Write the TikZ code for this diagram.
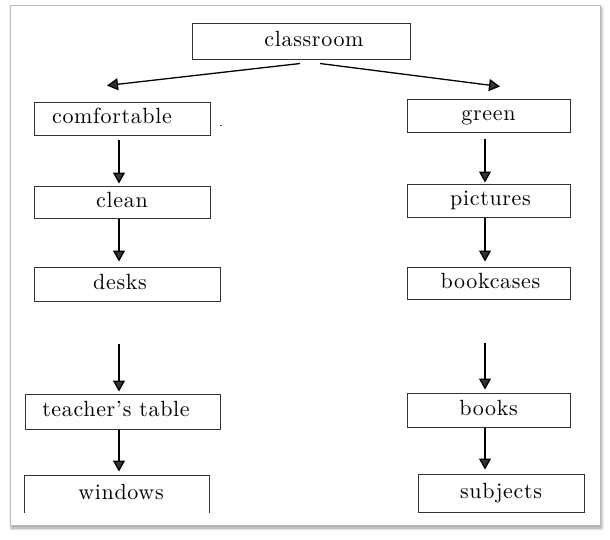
\documentclass[tikz,border=0pt]{standalone}
\usepackage{fontspec}
\newfontfamily\boxfont{lmroman10-regular.otf}[LetterSpace=3]
\usetikzlibrary{arrows.meta,shadows.blur}

\begin{document}
\begin{tikzpicture}
[x=1pt,y=-1pt,%
  darkArrow/.style={-{Triangle[length=11pt,width=12pt]},line width=1.3pt},%
  wordBox/.style={shape=rectangle,draw=black!80,line width=1pt,inner sep=0pt,
    text height=14pt,text depth=4pt,font=\boxfont\fontsize{22}{26}\selectfont},%
  openBox/.style={wordBox,draw=none},%
  frameDecorate/.style={draw=gray!55,line width=1pt,fill=white,
    blur shadow={shadow xshift=1.5pt,shadow yshift=-3pt,shadow blur steps=8,shadow blur radius=3pt}}]
\useasboundingbox (0,0) rectangle (610,539);
%% outer frame
\draw[frameDecorate] (10,5) rectangle (600,525);
%% nodes or boxes
\foreach \nodename/\x/\y/\w/\h/\txt/\sty in {
  classroom/301/41/218/36/{\hspace*{26pt}classroom}/wordBox,
  comfortable/122/118.5/176/33/{comfortable\hspace*{20pt}}/wordBox,
  clean/122/202/176/32/clean/wordBox,
  desks/127/284/186/34/{desks\hspace*{14pt}}/wordBox,
  teacher/122.5/411.5/195/35/{teacher’s table\hspace*{13pt}}/wordBox,
  windows/117/494/184/36/{\hspace*{8pt}windows}/openBox,
  green/488.5/115.5/163/33/green/wordBox,
  pictures/488.5/200.5/163/33/{\hspace*{4pt}pictures}/wordBox,
  bookcases/488.5/283/163/32/{\hspace*{4pt}bookcases}/wordBox,
  books/488.5/410/163/34/books/wordBox,
  subjects/501/493/166/38/subjects/wordBox}
{
  \node (\nodename) at (\x,\y) [\sty,minimum width=\w pt,minimum height=\h pt] {\txt};
}
%% windows box is cut at the bottom
\draw[draw=black!80,line width=1pt] (windows.south west) |- (windows.north east) -- (windows.south east);
%% stray mark
\fill[black!70] (219.5,124.5) rectangle (222,126);
%% columns of the arrows
\coordinate (leftCol) at (119,0);
\coordinate (rightCol) at (485,0);
%% arrows from the top box
\draw[darkArrow] ([xshift=-1pt,yshift=-4pt]classroom.south) -- ([xshift=-15pt,yshift=16pt]comfortable.north);
\draw[darkArrow] ([xshift=19pt,yshift=-4pt]classroom.south) -- ([xshift=11.5pt,yshift=12pt]green.north);
%% arrows down the columns
\path
\foreach \startnode/\endnode/\col/\gapA/\gapB in {
  comfortable/clean/leftCol/4/2, clean/desks/leftCol/0/5,
  desks/teacher/leftCol/42/2, teacher/windows/leftCol/0/4,
  green/pictures/rightCol/6/1, pictures/bookcases/rightCol/0/5,
  bookcases/books/rightCol/43/3, books/subjects/rightCol/0/4}
{
  (\startnode.south -| \col) edge[darkArrow,shorten <=\gapA pt,shorten >=\gapB pt] (\endnode.north -| \col)
};
\end{tikzpicture}
\end{document}
